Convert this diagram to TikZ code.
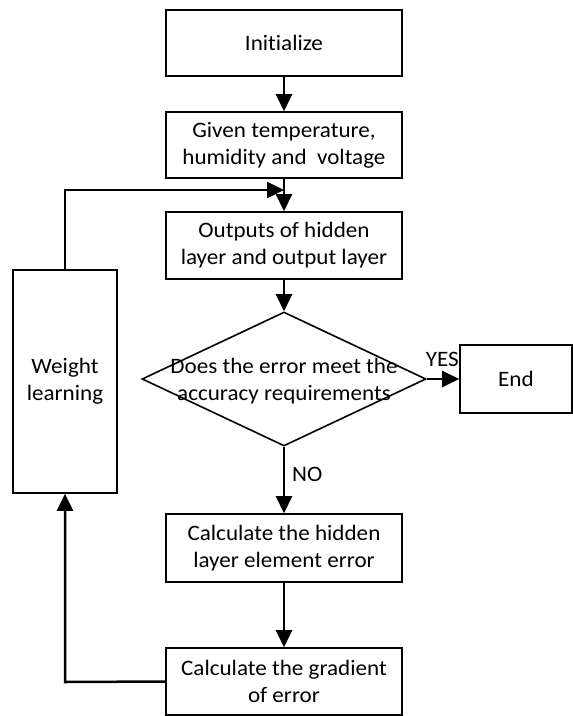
\documentclass[tikz,border=0pt]{standalone}
\usepackage{fontspec}
\setmainfont[FakeStretch=1.05,Ligatures={NoCommon}]{Carlito}
\usetikzlibrary{shapes.geometric,arrows.meta}
\begin{document}
\begin{tikzpicture}[x=1pt,y=-1pt,
  font=\fontsize{22}{27}\selectfont,
  box/.style={draw,line width=1.6pt,rectangle,align=center,inner sep=0pt},
  flow/.style={line width=2.5pt,-{Triangle[length=17pt,width=16pt]}},
  plain/.style={line width=2.5pt}]
\useasboundingbox (0,0) rectangle (573,716);
\node[box,minimum width=236pt,minimum height=66pt] (init) at (284,43) {Initialize};
\node[box,minimum width=236pt,minimum height=66pt] (given) at (284,145) {Given temperature,\\humidity and\ \ voltage};
\node[box,minimum width=236pt,minimum height=67pt] (outputs) at (284,245.5) {Outputs of hidden\\layer and output layer};
\node[diamond,draw,line width=1.6pt,minimum width=284pt,minimum height=134pt,inner sep=0pt] (dec) at (284,379) {};
\node[align=center] (dectext) at (284,381) {Does the error meet the\\accuracy requirements};
\node[box,minimum width=112pt,minimum height=68pt] (end) at (516,379) {End};
\node[box,minimum width=104pt,minimum height=223pt] (weight) at (65,381.5) {Weight\\learning};
\node[box,minimum width=236pt,minimum height=68pt] (hidden) at (284,548) {Calculate the hidden\\layer element error};
\node[box,minimum width=236pt,minimum height=67pt] (grad) at (284,681.5) {Calculate the gradient\\of error};
\coordinate (fbtop) at (65,190);
\coordinate (fbend) at (284,190);
\coordinate (fbbot) at (65,682);
\draw[flow] (init) -- (given);
\draw[flow] (given) -- (outputs);
\draw[flow] (weight.north) -- (fbtop) -- (fbend);
\draw[flow] (outputs) -- (dec.north);
\draw[flow] (dec.east) -- (end.west);
\node[anchor=south east,inner sep=0pt] (yes) at (459,367) {YES};
\draw[flow] (dec.south) -- (hidden.north);
\node[anchor=west,inner sep=0pt] (no) at (292,474) {NO};
\draw[flow] (hidden) -- (grad);
\draw[flow] (grad.west) -- (fbbot) -- (weight.south);
\end{tikzpicture}
\end{document}
